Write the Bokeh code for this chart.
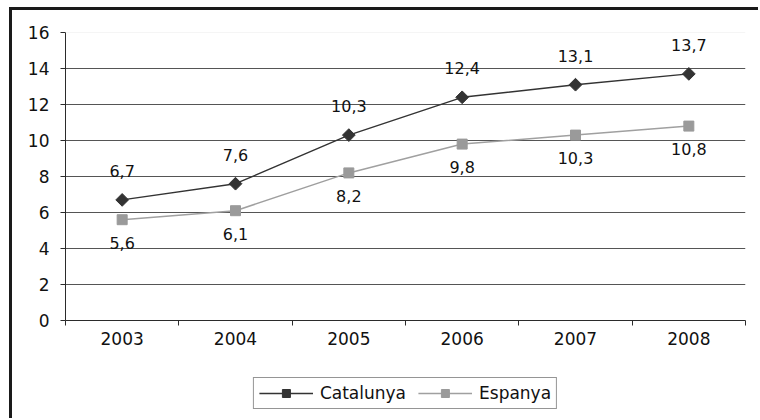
from math import pi
from bokeh.plotting import figure
from bokeh.layouts import column
from bokeh.core.properties import value
from bokeh.models import (ColumnDataSource, LabelSet, Legend, LegendItem, Range1d,
                          FixedTicker, LinearAxis, Span, CustomJSTickFormatter)
from bokeh.embed import file_html
from bokeh.resources import INLINE

years = ["2003", "2004", "2005", "2006", "2007", "2008"]
catalunya = [6.7, 7.6, 10.3, 12.4, 13.1, 13.7]
espanya = [5.6, 6.1, 8.2, 9.8, 10.3, 10.8]
y_ticks = [0, 2, 4, 6, 8, 10, 12, 14, 16]
series_names = ["Catalunya", "Espanya"]

def fmt(v):
    return f"{v:.1f}".replace(".", ",")

# category slots: each year occupies one unit band, marks sit at the band centre
slot = [i + 0.5 for i in range(len(years))]
edges = list(range(len(years) + 1))

src_c = ColumnDataSource(dict(x=slot, y=catalunya, t=[fmt(v) for v in catalunya]))
src_e = ColumnDataSource(dict(x=slot, y=espanya, t=[fmt(v) for v in espanya]))

FONT = "DejaVu Sans"
FS = "17px"
LFS = "16px"
DARK = "#2b2b2b"
C_CAT = "#333333"
C_ESP = "#9a9a9a"
C_ESP_LINE = "#a0a0a0"

p = figure(width=746, height=352, x_range=Range1d(0, len(years)), y_range=Range1d(0, 16),
           output_backend="svg", toolbar_location=None, x_axis_location=None,
           min_border_left=53, min_border_top=22, min_border_right=13, min_border_bottom=42)
p.outline_line_color = None

# y axis
p.yaxis.ticker = FixedTicker(ticks=y_ticks)
p.yaxis.axis_line_color = DARK
p.yaxis.major_tick_line_color = DARK
p.yaxis.minor_tick_line_color = None
p.yaxis.major_tick_in = 0
p.yaxis.major_tick_out = 5
p.yaxis.major_label_standoff = 11
p.yaxis.major_label_text_font = FONT
p.yaxis.major_label_text_font_size = FS
p.yaxis.major_label_text_color = "#111111"

p.ygrid.ticker = FixedTicker(ticks=y_ticks[1:-1])
p.ygrid.grid_line_color = "#555555"
p.ygrid.grid_line_width = 1
p.xgrid.grid_line_color = None
p.add_layout(Span(location=y_ticks[-1], dimension="width", line_color="#ececec", line_width=1))

# x axis: tick marks between categories, labels at category centres
edge_axis = LinearAxis(ticker=FixedTicker(ticks=edges),
                       formatter=CustomJSTickFormatter(code="return ''"),
                       axis_line_color=DARK, major_tick_line_color=DARK, minor_tick_line_color=None,
                       major_tick_in=0, major_tick_out=5, major_label_standoff=0,
                       major_label_text_font_size="1px")
p.add_layout(edge_axis, "below")
cat_axis = LinearAxis(ticker=FixedTicker(ticks=slot),
                      major_label_overrides={s: y for s, y in zip(slot, years)},
                      axis_line_color=None, major_tick_line_color=None, minor_tick_line_color=None,
                      major_tick_in=0, major_tick_out=0, major_label_standoff=6,
                      major_label_text_font=FONT, major_label_text_font_size=FS,
                      major_label_text_color="#111111")
p.add_layout(cat_axis, "below")

p.line("x", "y", source=src_c, line_color=C_CAT, line_width=1.4)
p.scatter("x", "y", source=src_c, marker="square", angle=pi / 4, size=9,
          fill_color=C_CAT, line_color=C_CAT)
p.line("x", "y", source=src_e, line_color=C_ESP_LINE, line_width=1.5)
p.scatter("x", "y", source=src_e, marker="square", size=10, fill_color=C_ESP, line_color=C_ESP)

p.add_layout(LabelSet(x="x", y="y", text="t", source=src_c, y_offset=23, text_align="center",
                      text_baseline="alphabetic", text_font=value(FONT), text_font_size=value(LFS),
                      text_color="#111111"))
p.add_layout(LabelSet(x="x", y="y", text="t", source=src_e, y_offset=-29, text_align="center",
                      text_baseline="alphabetic", text_font=value(FONT), text_font_size=value(LFS),
                      text_color="#111111"))

# legend panel: same series, drawn into a strip whose y range keeps the marks out of view
q = figure(width=746, height=56, x_range=Range1d(0, len(years)), y_range=Range1d(-2, -1),
           output_backend="svg", toolbar_location=None, x_axis_location=None, y_axis_location=None,
           min_border_left=37, min_border_right=0, min_border_top=5, min_border_bottom=0)
q.outline_line_color = None
q.grid.grid_line_color = None
r1 = q.line("x", "y", source=src_c, line_color=C_CAT, line_width=1.4)
r2 = q.scatter("x", "y", source=src_c, marker="square", angle=pi / 4, size=8,
               fill_color=C_CAT, line_color=C_CAT)
r3 = q.line("x", "y", source=src_e, line_color=C_ESP_LINE, line_width=1.5)
r4 = q.scatter("x", "y", source=src_e, marker="square", size=9, fill_color=C_ESP, line_color=C_ESP)
legend = Legend(items=[LegendItem(label=series_names[0], renderers=[r1, r2]),
                       LegendItem(label=series_names[1], renderers=[r3, r4])],
                orientation="horizontal", location="center",
                label_text_font=FONT, label_text_font_size=FS, label_text_color="#111111",
                border_line_color=DARK, border_line_width=1,
                glyph_width=54, glyph_height=20, spacing=12, padding=5, margin=0,
                label_standoff=7, label_height=20)
q.add_layout(legend, "center")

layout = column(p, q, spacing=0, styles={"margin-left": "9px", "margin-top": "7px",
                                          "border-left": "3px solid #1a1a1a",
                                          "border-top": "3px solid #1a1a1a"})
open("out.html", "w").write(file_html(layout, INLINE))
